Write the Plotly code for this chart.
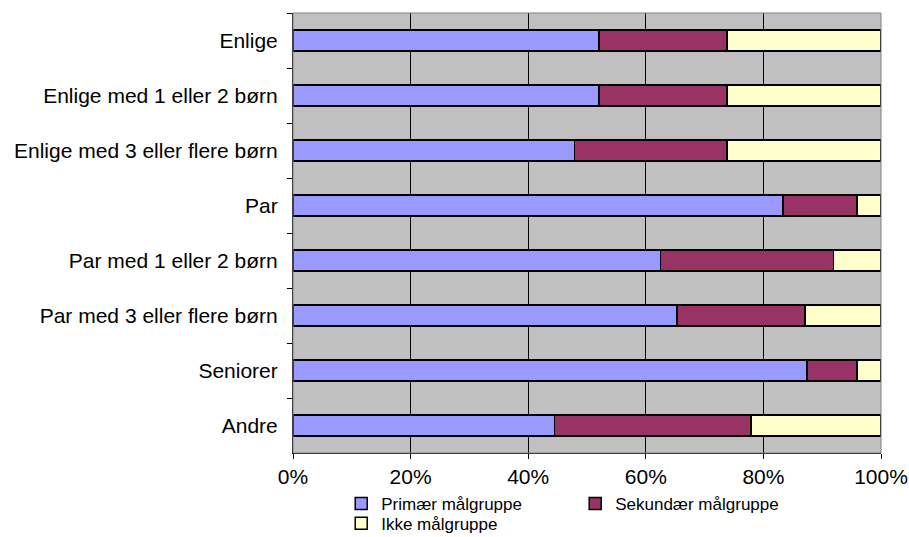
import plotly.graph_objects as go

# Household groups, top to bottom
categories = [
    "Enlige",
    "Enlige med 1 eller 2 børn",
    "Enlige med 3 eller flere børn",
    "Par",
    "Par med 1 eller 2 børn",
    "Par med 3 eller flere børn",
    "Seniorer",
    "Andre",
]

# Share of each group (percent)
primaer = [52.0, 52.0, 47.9, 83.3, 62.5, 65.3, 87.4, 44.5]
sekundaer = [21.8, 21.8, 25.9, 12.6, 29.4, 21.8, 8.5, 33.4]
ikke = [26.2, 26.2, 26.2, 4.1, 8.1, 12.9, 4.1, 22.1]

series_names = ["Primær målgruppe", "Sekundær målgruppe", "Ikke målgruppe"]
series_colors = ["#9999FF", "#993366", "#FFFFCC"]
series_legends = ["legend", "legend", "legend2"]

x_ticks = [0, 20, 40, 60, 80, 100]

FONT = "Liberation Sans, Arial, sans-serif"

fig = go.Figure()
for name, vals, col, lg in zip(series_names, [primaer, sekundaer, ikke],
                               series_colors, series_legends):
    fig.add_trace(go.Bar(
        y=categories,
        x=vals,
        name=name,
        orientation="h",
        legend=lg,
        marker=dict(color=col, line=dict(color="#000000", width=1.5)),
    ))

legend_style = dict(
    orientation="h",
    xanchor="left",
    yanchor="top",
    font=dict(family=FONT, size=17, color="#000000"),
    bgcolor="rgba(0,0,0,0)",
    traceorder="normal",
    itemclick=False,
)

fig.update_layout(
    width=909,
    height=537,
    barmode="stack",
    bargap=0.61,
    paper_bgcolor="#FFFFFF",
    plot_bgcolor="#C0C0C0",
    margin=dict(l=293, r=28, t=13, b=84, autoexpand=False),
    font=dict(family=FONT, size=21, color="#000000"),
    showlegend=True,
    legend=dict(
        x=0.082,
        y=-0.075,
        entrywidth=189,
        entrywidthmode="pixels",
        **legend_style,
    ),
    legend2=dict(
        x=0.082,
        y=-0.12,
        **legend_style,
    ),
    xaxis=dict(
        range=[0, 100],
        tickvals=x_ticks,
        ticktext=[f"{v}%" for v in x_ticks],
        showgrid=True,
        gridcolor="#000000",
        gridwidth=1,
        zeroline=False,
        showline=True,
        linecolor="#000000",
        linewidth=1,
        ticks="outside",
        ticklen=5,
        tickcolor="#000000",
        fixedrange=True,
    ),
    yaxis=dict(
        type="category",
        categoryorder="array",
        categoryarray=categories,
        autorange="reversed",
        tickson="boundaries",
        showgrid=False,
        zeroline=False,
        showline=True,
        linecolor="#000000",
        linewidth=1,
        ticks="outside",
        ticklen=5,
        tickcolor="#000000",
        ticklabelstandoff=10,
        fixedrange=True,
    ),
    shapes=[
        dict(
            type="rect", xref="paper", yref="paper",
            x0=0, x1=1, y0=0, y1=1,
            line=dict(color="#808080", width=1),
            fillcolor="rgba(0,0,0,0)",
            layer="above",
        )
    ],
)

fig.write_html("out.html")
